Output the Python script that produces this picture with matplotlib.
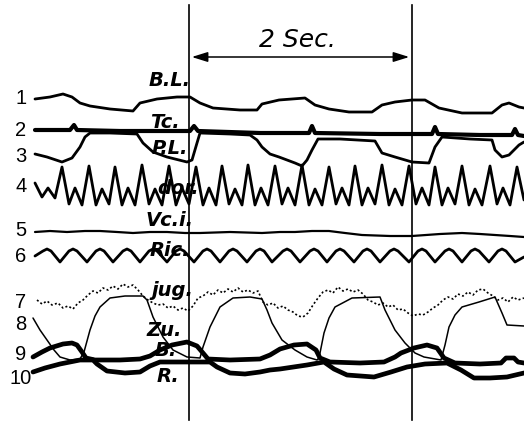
import matplotlib
matplotlib.use("Agg")
import matplotlib.pyplot as plt

# trace coordinates (x px, y px from top)
bl_x = [35, 50, 63, 72, 80, 90, 110, 133, 140, 157, 177, 190, 200, 213, 240, 257, 262, 279, 305, 315, 329, 349, 372, 382, 395, 412, 425, 439, 462, 492, 502, 509, 519, 524]
bl_y = [99, 97, 94, 97, 103, 106, 109, 111, 103, 99, 97, 97, 103, 108, 110, 110, 104, 100, 98, 105, 109, 112, 112, 105, 102, 100, 100, 108, 113, 113, 105, 103, 107, 108]

tc_x = [35, 70, 74, 77, 120, 190, 194, 198, 260, 309, 312, 315, 380, 432, 435, 438, 480, 512, 515, 518, 524]
tc_y = [130, 130, 125, 130, 131, 131, 126, 131, 133, 133, 126, 133, 134, 134, 127, 134, 135, 135, 129, 135, 136]

pl_x = [35, 47, 62, 72, 80, 85, 90, 110, 137, 143, 153, 167, 187, 192, 197, 200, 230, 250, 257, 262, 270, 279, 295, 302, 307, 312, 318, 340, 375, 382, 395, 412, 429, 435, 442, 470, 492, 495, 502, 509, 519, 524]
pl_y = [154, 157, 162, 158, 147, 137, 133, 133, 134, 143, 152, 157, 162, 160, 143, 133, 134, 135, 140, 147, 154, 157, 163, 166, 160, 150, 139, 139, 141, 153, 157, 162, 163, 147, 137, 139, 140, 150, 157, 155, 145, 142]

dor_x = [35, 42, 48, 55, 62, 69, 75, 82, 89, 96, 102, 109, 115, 122, 128, 135, 142, 149, 155, 162,
         169, 176, 182, 189, 196, 203, 209, 216, 222, 229, 235, 242, 248, 255, 261, 268, 275, 282, 288, 295,
         302, 309, 315, 322, 329, 336, 342, 349, 355, 362, 368, 375, 382, 389, 395, 402, 409, 416, 422, 429,
         435, 442, 448, 455, 462, 469, 475, 482, 490, 497, 503, 510, 517, 524]
dor_y = [183, 197, 188, 198, 167, 204, 188, 205, 166, 205, 189, 204, 167, 205, 188, 205, 165, 204, 189, 205,
         166, 205, 188, 204, 167, 205, 188, 205, 166, 204, 189, 205, 165, 205, 188, 205, 166, 204, 188, 205,
         165, 205, 189, 205, 167, 204, 188, 205, 166, 205, 188, 204, 165, 205, 189, 205, 166, 204, 188, 205,
         167, 205, 188, 204, 166, 205, 189, 205, 166, 204, 188, 205, 167, 200]

vci_x = [35, 50, 67, 85, 100, 117, 133, 150, 167, 185, 200, 230, 262, 280, 295, 312, 329, 345, 362, 390, 412, 440, 462, 480, 495, 510, 524]
vci_y = [232, 231, 232, 231, 231, 232, 233, 232, 232, 233, 233, 232, 233, 232, 232, 231, 231, 233, 235, 236, 236, 234, 233, 234, 235, 236, 237]

ric_x = [35, 43, 47, 51, 60, 69, 73, 77, 87, 96, 100, 104, 113, 123, 127, 131, 140, 149, 153, 157, 167,
         176, 180, 184, 194, 203, 207, 211, 220, 229, 233, 237, 247, 256, 260, 264, 272, 283, 287, 291, 300,
         310, 314, 318, 327, 336, 340, 344, 354, 363, 367, 371, 380, 390, 394, 398, 409, 418, 422, 426, 435,
         445, 449, 453, 462, 471, 475, 479, 489, 498, 502, 506, 515, 524]
ric_y = [256, 251, 249, 251, 262, 251, 249, 251, 262, 251, 249, 251, 262, 251, 249, 251, 262, 251, 249, 251, 262,
         251, 249, 251, 262, 251, 249, 251, 262, 251, 249, 251, 262, 251, 249, 251, 262, 251, 249, 251, 262,
         251, 249, 251, 262, 251, 249, 251, 262, 251, 249, 251, 262, 251, 249, 251, 262, 251, 249, 251, 262,
         251, 249, 251, 262, 251, 249, 251, 262, 251, 249, 251, 262, 257]

jug_x = [37, 42, 47, 52, 58, 63, 68, 73, 78, 83, 88, 93, 98, 103, 108, 113, 118, 123, 128, 133, 138, 143, 148,
         153, 158, 163, 168, 173, 178, 183, 188, 193, 198, 203, 208, 213, 218, 223, 228, 233, 238, 243, 248, 253,
         258, 263, 268, 273, 278, 283, 288, 293, 298, 303, 308, 313, 318, 323, 328, 333, 338, 343, 348, 353, 358,
         363, 368, 373, 378, 383, 388, 393, 398, 403, 408, 413, 418, 423, 428, 433, 438, 443, 448, 453, 458, 463,
         468, 473, 478, 483, 488, 493, 498, 503, 508, 513, 518, 524]
jug_y = [300, 304, 301, 305, 303, 308, 306, 309, 303, 300, 295, 291, 293, 288, 290, 286, 289, 284, 287, 285, 290, 296, 300,
         303, 305, 304, 308, 306, 310, 308, 311, 306, 298, 296, 292, 295, 290, 293, 289, 292, 288, 292, 290, 293,
         291, 302, 305, 303, 308, 306, 310, 312, 316, 317, 313, 305, 298, 292, 290, 293, 287, 291, 289, 292, 290,
         294, 300, 302, 305, 303, 307, 305, 310, 309, 313, 316, 314, 315, 312, 308, 305, 300, 297, 299, 294, 296,
         292, 295, 290, 289, 293, 296, 300, 298, 302, 297, 300, 298]

zu_x = [33, 40, 47, 54, 60, 70, 80, 84, 90, 95, 100, 110, 125, 143, 147, 153, 163, 173, 187, 200, 203, 210, 220, 233, 250,
        262, 267, 272, 282, 295, 307, 317, 319, 324, 329, 335, 352, 380, 385, 395, 405, 415, 424, 441, 445, 449, 455, 462,
        479, 495, 502, 507, 524]
zu_y = [318, 330, 340, 350, 357, 360, 359, 352, 330, 316, 307, 298, 296, 296, 300, 317, 337, 350, 357, 358, 347, 327, 307, 298, 297,
        299, 310, 323, 340, 350, 357, 360, 358, 333, 318, 307, 298, 297, 310, 330, 343, 353, 357, 360, 345, 327, 315, 307,
        302, 297, 313, 325, 326]

b_x = [33, 42, 50, 63, 72, 77, 82, 86, 95, 120, 140, 150, 160, 172, 187, 197, 203, 208, 230, 260, 270, 280, 294, 307,
       316, 320, 330, 360, 384, 395, 401, 414, 427, 437, 444, 455, 480, 501, 506, 514, 518, 524]
b_y = [357, 352, 348, 344, 343, 345, 352, 358, 360, 360, 359, 356, 350, 345, 342, 346, 353, 359, 360, 359, 355, 349, 345, 344,
       350, 358, 362, 363, 362, 357, 353, 348, 345, 348, 358, 363, 364, 363, 358, 358, 362, 363]

r_x = [33, 45, 60, 80, 93, 97, 107, 125, 140, 150, 160, 185, 210, 217, 230, 245, 260, 270, 280, 307, 324, 334, 347, 374,
       391, 407, 425, 447, 461, 474, 490, 507, 524]
r_y = [372, 368, 364, 360, 360, 364, 371, 373, 372, 366, 362, 362, 362, 367, 373, 374, 372, 370, 369, 365, 362, 369, 375, 377,
       372, 367, 364, 363, 370, 378, 378, 377, 373]

row_numbers = ["1", "2", "3", "4", "5", "6", "7", "8", "9", "10"]
row_y = [98, 131, 156, 186, 230, 256, 302, 324, 355, 379]
trace_labels = ["B.L.", "Tc.", "P.L.", "dor.", "Vc.i.", "Ric.", "jug.", "Zu.", "B.", "R."]
label_x = [170, 165, 170, 178, 170, 170, 172, 164, 166, 168]
label_y = [80, 122, 148, 188, 221, 250, 290, 330, 351, 376]

marker_x = [189, 412]   # 2 second time marks

fig = plt.figure(figsize=(5.24, 4.22), dpi=100)
ax = fig.add_axes([0, 0, 1, 1])
ax.set_xlim(0, 524)
ax.set_ylim(422, 0)
ax.axis('off')

ink = 'black'
kw = dict(color=ink, solid_joinstyle='round', solid_capstyle='round')
ax.plot(bl_x, bl_y, lw=2.0, **kw)
ax.plot(tc_x, tc_y, lw=3.0, **kw)
ax.plot(pl_x, pl_y, lw=2.0, **kw)
ax.plot(dor_x, dor_y, lw=2.0, **kw)
ax.plot(vci_x, vci_y, lw=1.6, **kw)
ax.plot(ric_x, ric_y, lw=2.0, **kw)
ax.plot(jug_x, jug_y, lw=1.2, color=ink, linestyle=(0, (1.2, 1.4)))
ax.plot(zu_x, zu_y, lw=1.1, **kw)
ax.plot(b_x, b_y, lw=3.4, **kw)
ax.plot(r_x, r_y, lw=3.4, **kw)

# time marks and the 2 sec arrow
for mx in marker_x:
    ax.plot([mx, mx], [5, 420], color=ink, lw=1.2)
ax.annotate('', xy=(marker_x[1], 57), xytext=(marker_x[0], 57),
            arrowprops=dict(arrowstyle='<|-|>,head_length=0.8,head_width=0.25', color=ink, lw=1.1, mutation_scale=12))
ax.text(297, 40, '2 Sec.', fontsize=18, style='italic', ha='center', va='center', color=ink)

for t, y in zip(row_numbers, row_y):
    ax.text(21, y, t, fontsize=14.5, family='Liberation Sans', ha='center', va='center', color=ink)
for t, x, y in zip(trace_labels, label_x, label_y):
    ax.text(x, y, t, fontsize=14, style='italic', weight='bold', ha='center', va='center', color=ink)

fig.savefig('out.png', dpi=100)
